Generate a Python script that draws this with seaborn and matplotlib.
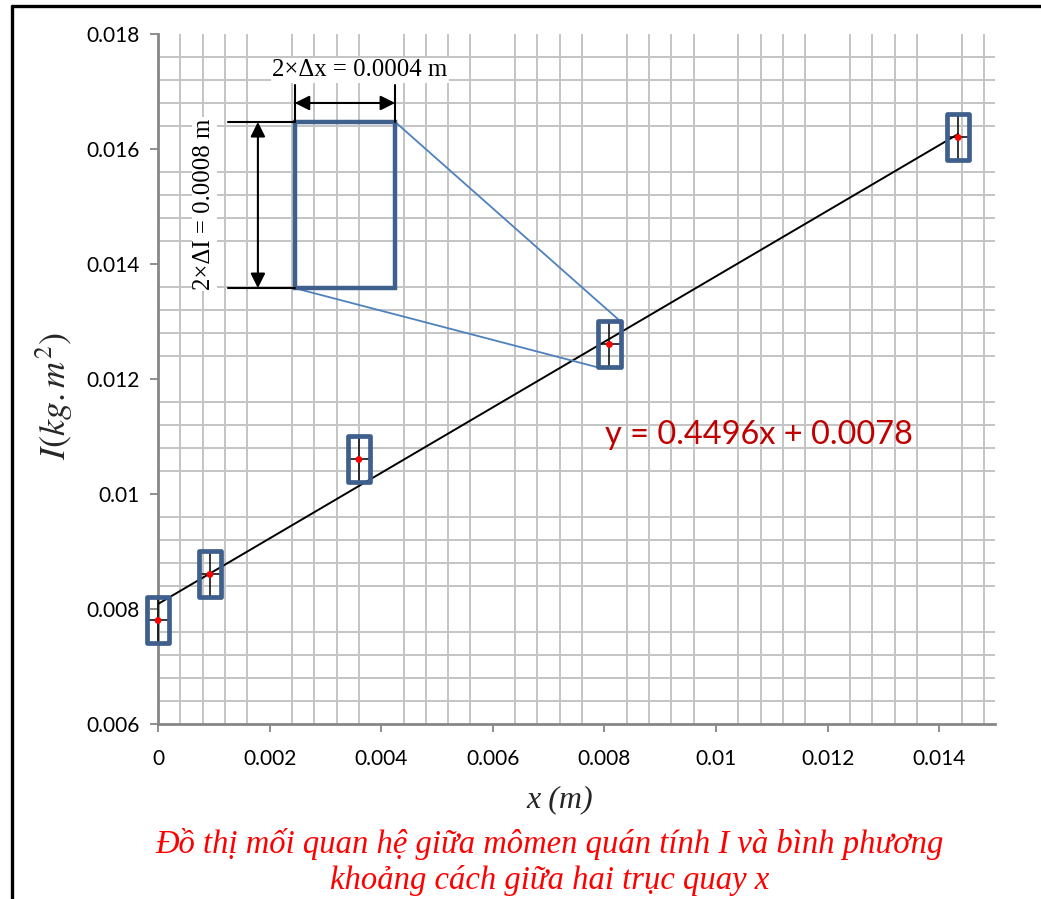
import numpy as np
import pandas as pd
import matplotlib
matplotlib.use("Agg")
import matplotlib.pyplot as plt
from matplotlib.patches import Rectangle
from matplotlib.lines import Line2D
import seaborn as sns

# ---- data ----
x_vals = [0.0, 0.00093, 0.0036, 0.00809, 0.01434]
I_vals = [0.0078, 0.0086, 0.0106, 0.0126, 0.0162]
x_err = 0.0002
I_err = 0.0004
x_ticks = [0, 0.002, 0.004, 0.006, 0.008, 0.01, 0.012, 0.014]
x_tick_labels = ["0", "0.002", "0.004", "0.006", "0.008", "0.01", "0.012", "0.014"]
y_ticks = [0.006, 0.008, 0.01, 0.012, 0.014, 0.016, 0.018]
y_tick_labels = ["0.006", "0.008", "0.01", "0.012", "0.014", "0.016", "0.018"]
equation_text = "y = 0.4496x + 0.0078"
zoom_box = (0.00245, 0.01358, 0.00425, 0.01647)   # x0, y0, x1, y1 of enlarged box
zoom_target = 3  # index of the point that is enlarged
dx_label = "2×Δx = 0.0004 m"
dI_label = "2×ΔI = 0.0008 m"
caption = "Đồ thị mối quan hệ giữa mômen quán tính I và bình phương\nkhoảng cách giữa hai trục quay x"

df = pd.DataFrame({"x": x_vals, "I": I_vals})

sns.set_theme(style="white")
plt.rcParams["mathtext.fontset"] = "stix"

fig = plt.figure(figsize=(10.41, 8.99), dpi=100)
ax = fig.add_axes([0.1518, 0.1947, 0.8040, 0.7675])

box_color = "#3f5f8d"
grid_color = "#c4c4c4"
axis_color = "#868686"

ax.set_xlim(0, 0.015)
ax.set_ylim(0.006, 0.018)

# grid every 0.0004
ax.set_xticks(np.arange(0, 0.01481, 0.0004), minor=True)
ax.set_yticks(np.arange(0.006, 0.01801, 0.0004), minor=True)
ax.grid(True, which="minor", color=grid_color, linewidth=1.4, zorder=0)
ax.set_axisbelow(True)

ax.set_xticks(x_ticks)
ax.set_xticklabels(x_tick_labels)
ax.set_yticks(y_ticks)
ax.set_yticklabels(y_tick_labels)
ax.tick_params(axis="both", which="minor", length=0)
ax.tick_params(axis="both", which="major", length=6, width=1.3, color=axis_color,
               labelsize=15, direction="out", bottom=True, left=True)
ax.tick_params(axis="y", pad=7)
ax.tick_params(axis="x", pad=12)
for lab in ax.get_xticklabels() + ax.get_yticklabels():
    lab.set_fontfamily("Lato")
    lab.set_color("black")

for s in ["top", "right"]:
    ax.spines[s].set_visible(False)
for s in ["left", "bottom"]:
    ax.spines[s].set_color(axis_color)
    ax.spines[s].set_linewidth(2)

# trend line from data
sns.regplot(data=df, x="x", y="I", ax=ax, scatter=False, ci=None, truncate=True,
            line_kws={"color": "black", "linewidth": 1.4, "zorder": 3})

# error bars
ax.errorbar(x_vals, I_vals, xerr=x_err, yerr=I_err, fmt="none", ecolor="black",
            elinewidth=1.1, capsize=0, zorder=4, clip_on=False)

# boxes
for xv, yv in zip(x_vals, I_vals):
    ax.add_patch(Rectangle((xv - x_err, yv - I_err), 2 * x_err, 2 * I_err,
                           fill=False, edgecolor=box_color, linewidth=3.4,
                           joinstyle="round", zorder=5, clip_on=False))

# red dots
sns.scatterplot(data=df, x="x", y="I", ax=ax, color="red", s=24, edgecolor="none",
                zorder=6, clip_on=False)

# enlarged box
bx0, by0, bx1, by1 = zoom_box
ax.add_patch(Rectangle((bx0, by0), bx1 - bx0, by1 - by0, fill=False,
                       edgecolor=box_color, linewidth=3.2, zorder=5))
tx, ty = x_vals[zoom_target], I_vals[zoom_target]
ax.plot([bx1, tx + x_err], [by1, ty + I_err], color="#4f81bd", linewidth=1.3, zorder=4)
ax.plot([bx0, tx - x_err], [by0, ty - I_err], color="#4f81bd", linewidth=1.3, zorder=4)

# dimension lines
ax.plot([bx0, bx0], [by1, 0.01711], color="black", linewidth=1.5, zorder=5)
ax.plot([bx1, bx1], [by1, 0.01711], color="black", linewidth=1.5, zorder=5)
ax.annotate("", xy=(bx0, 0.0168), xytext=(bx1, 0.0168),
            arrowprops=dict(arrowstyle="<|-|>", color="black", lw=1.5,
                            mutation_scale=22, shrinkA=0, shrinkB=0), zorder=6)
ax.plot([0.00125, bx0], [by1, by1], color="black", linewidth=1.5, zorder=5)
ax.plot([0.00125, bx0], [by0, by0], color="black", linewidth=1.5, zorder=5)
ax.annotate("", xy=(0.00179, by1), xytext=(0.00179, by0),
            arrowprops=dict(arrowstyle="<|-|>", color="black", lw=1.5,
                            mutation_scale=22, shrinkA=0, shrinkB=0), zorder=6)

ax.text(0.00362, 0.01737, dx_label, ha="center", va="center", fontsize=17.8,
        family="Liberation Serif", color="black",
        bbox=dict(facecolor="white", edgecolor="none", pad=1))
ax.text(0.00083, 0.01504, dI_label, ha="center", va="center", fontsize=17.8,
        family="Liberation Serif", color="black", rotation=90,
        bbox=dict(facecolor="white", edgecolor="none", pad=1))

# equation
ax.text(0.00801, 0.01103, equation_text, ha="left", va="center", fontsize=23.4,
        family="Lato", color="#c00000", zorder=7)

# axis labels
ax.set_xlabel("x (m)", fontsize=23, family="Liberation Serif", style="italic", va="center")
ax.xaxis.set_label_coords(0.48, -0.110)
ax.set_ylabel(r"$I(kg.m^2)$", fontsize=26, va="center")
ax.yaxis.set_label_coords(-0.124, 0.475)

# caption
fig.text(0.528, 1 - 862 / 899, caption, ha="center", va="center", fontsize=23.5,
         family="Liberation Serif", style="italic", color="red", linespacing=1.22)

# frame lines
fig.add_artist(Line2D([11.5 / 1041, 1], [1 - 5.5 / 899, 1 - 5.5 / 899],
                      transform=fig.transFigure, color="black", linewidth=2.4))
fig.add_artist(Line2D([11.5 / 1041, 11.5 / 1041], [0, 1 - 5.5 / 899],
                      transform=fig.transFigure, color="black", linewidth=2.4))

fig.savefig("out.png", dpi=100, facecolor="white")
